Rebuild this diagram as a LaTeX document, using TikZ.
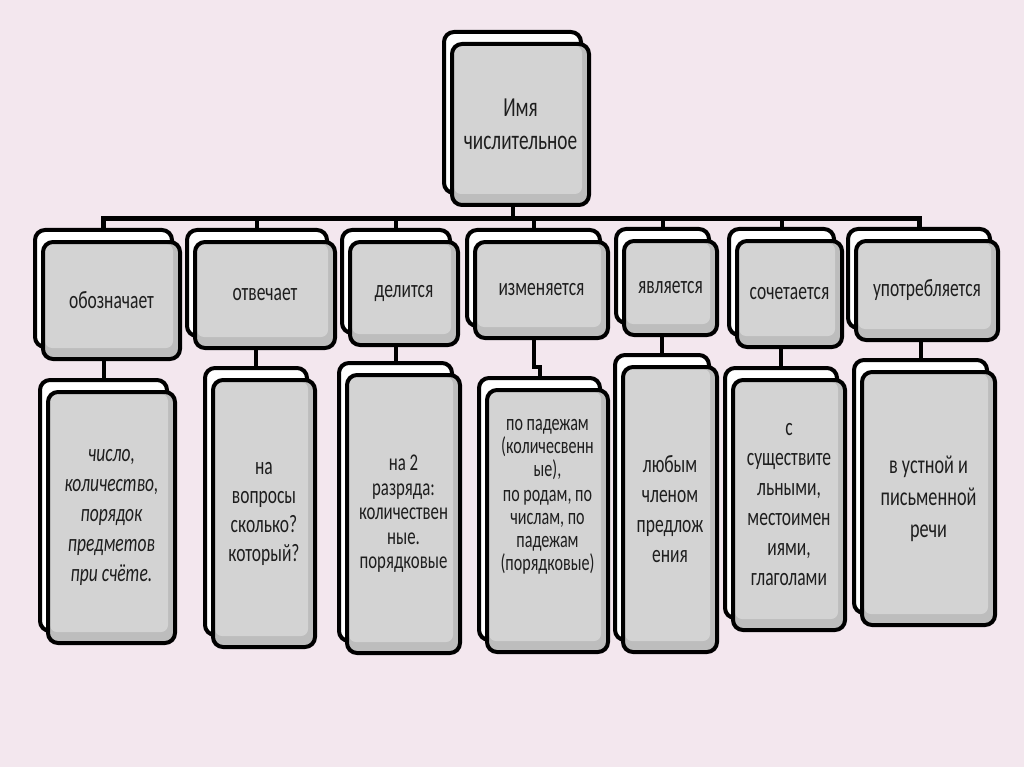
\documentclass[tikz,border=0pt]{standalone}
\usepackage{fontspec}
\setmainfont{Carlito}[FakeStretch=0.70]
\usetikzlibrary{backgrounds}
\definecolor{bgpink}{HTML}{F3E7EE}
\definecolor{boxgray}{HTML}{BDBDBD}
\definecolor{boxlight}{HTML}{D3D3D3}
\definecolor{ink}{HTML}{1E1E1E}
\tikzset{
  backbox/.style={draw=black, fill=white, line width=4pt, rounded corners=10pt, inner sep=0pt},
  frontbox/.style={draw=black, fill=boxgray, line width=4pt, rounded corners=10pt, inner sep=0pt,
    text=ink, align=center,
    path picture={\fill[boxlight, rounded corners=7pt]
      ([shift={(2pt,-2pt)}]path picture bounding box.north west) rectangle
      ([shift={(-7pt,11pt)}]path picture bounding box.south east);}},
  txt/.style={text=ink, align=center, inner sep=0pt},
  conn/.style={draw=black, line width=4pt},
  mainbar/.style={draw=black, line width=5pt},
  lbl/.style={font=\fontsize{25}{30}\selectfont},
}
\newcommand\twobox[7][]{%
  \node[backbox, minimum width=#5pt, minimum height=#6pt] (#2s) at (#3-8,#4-12) {};
  \node[frontbox, minimum width=#5pt, minimum height=#6pt, #1] (#2) at (#3,#4) {#7};}
\begin{document}
\begin{tikzpicture}[x=1pt,y=-1pt]
\useasboundingbox (0,0) rectangle (1024,767);
% top
\twobox[font=\fontsize{27.5}{33}\selectfont]{top}{520.5}{124.5}{137}{161}{Имя\\числительное}
% second row
\twobox[lbl]{a1}{111.5}{300.5}{137}{117}{обозначает}
\twobox[lbl]{a2}{265}{295}{140}{106}{отвечает}
\twobox[lbl]{a3}{404}{293.5}{108}{103}{делится}
\twobox[lbl]{a4}{541.5}{290}{133}{96}{изменяется}
\twobox[lbl]{a5}{670.5}{288}{93}{94}{является}
\twobox[lbl]{a6}{789.5}{294}{105}{106}{сочетается}
\twobox[lbl]{a7}{927}{290.5}{142}{99}{употребляется}
% third row
\twobox[font=\fontsize{25}{30}\selectfont\itshape]{b1}{111.5}{517.5}{127}{251}{число,\\количество,\\порядок\\предметов\\при счёте.}
\twobox[font=\fontsize{25}{29}\selectfont]{b2}{264}{513.5}{102}{267}{на\\вопросы\\сколько?\\который?}
\twobox[font=\fontsize{24}{24.5}\selectfont]{b3}{403.5}{514}{113}{278}{на 2\\разряда:\\количествен\\ные.\\порядковые}
\twobox{b4}{547.5}{521}{121}{262}{}
\node[txt, font=\fontsize{23}{23}\selectfont] (t4) at (547.5,497) {по падежам\\(количесвенн\\ые),\\[2pt]по родам, по\\числам, по\\падежам\\(порядковые)};
\twobox[font=\fontsize{25}{30}\selectfont]{b5}{670}{509.5}{94}{285}{любым\\членом\\предлож\\ения}
\twobox[font=\fontsize{25}{30}\selectfont]{b6}{789}{505}{112}{250}{с\\существите\\льными,\\местоимен\\иями,\\глаголами}
\twobox[font=\fontsize{26}{32}\selectfont]{b7}{928.5}{498.5}{133}{253}{в устной и\\письменной\\речи}
% connectors
\begin{scope}[on background layer]
  \fill[bgpink] (0,0) rectangle (1024,767);
  \coordinate (bar) at (513,219);
  \draw[mainbar] (a1s.north) |- (bar) -| (a7s.north);
  \foreach \n in {a2s,a3s,a4s,a5s,a6s} \draw[conn] (\n.north) -- (\n.north |- bar);
  \draw[conn] (top.south -| tops.north) -- (tops.north |- bar);
  \foreach \a/\b in {a1/b1s,a2/b2s,a3/b3s,a5/b5s,a6/b6s,a7/b7s}
    \draw[conn] (\b.north) -- (\b.north |- \a.south);
  \draw[conn] (a4.south -| a4s.north) -- ++(0,27) -| (b4s.north);
\end{scope}
\end{tikzpicture}
\end{document}
